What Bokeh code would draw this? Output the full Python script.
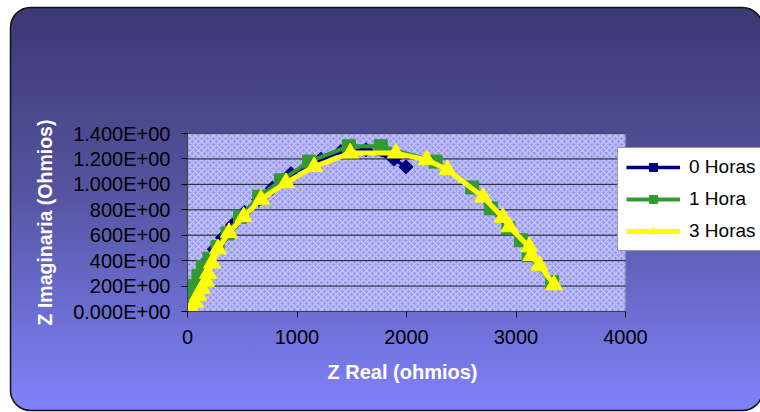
from urllib.parse import quote
from bokeh.plotting import figure
from bokeh.models import (FixedTicker, BoxAnnotation, Legend, LegendItem,
                          ColumnDataSource, Range1d, Title)
from bokeh.embed import file_html
from bokeh.resources import INLINE

# ---------------- data ----------------
x_0h = [20, 50, 90, 135, 185, 245, 320, 410, 520, 650, 775, 945, 1220, 1400, 1630, 1885, 1995]
y_0h = [50, 130, 220, 310, 400, 490, 580, 680, 780, 880, 970, 1085, 1198, 1258, 1272, 1198, 1138]

x_1h = [5, 25, 60, 100, 140, 200, 275, 365, 480, 655, 855, 1110, 1475, 1765, 2265, 2600, 2770,
        2930, 3045, 3115, 3330]
y_1h = [20, 120, 200, 280, 350, 415, 508, 614, 745, 903, 1032, 1179, 1300, 1300, 1179, 975, 811,
        656, 561, 442, 231]

x_3h = [40, 68, 96, 132, 169, 187, 224, 278, 379, 513, 671, 899, 1157, 1486, 1902, 2185, 2374,
        2700, 2880, 2940, 3120, 3140, 3215, 3347]
y_3h = [16, 71, 126, 182, 237, 300, 382, 492, 620, 745, 882, 1013, 1140, 1246, 1246, 1193, 1114,
        900, 740, 666, 508, 440, 363, 210]

series_names = ["0 Horas", "1 Hora", "3 Horas"]
y_ticks = [0, 200, 400, 600, 800, 1000, 1200, 1400]
y_tick_labels = ["0.000E+00", "200E+00", "400E+00", "600E+00", "800E+00",
                 "1.000E+00", "1.200E+00", "1.400E+00"]
x_ticks = [0, 1000, 2000, 3000, 4000]
x_min, x_max, y_min, y_max = 0, 4000, 0, 1400
x_title = "Z Real (ohmios)"
y_title = "Z Imaginaria (Ohmios)"

FONT = "Liberation Sans"

# the frame runs to the right edge of the canvas so the legend can overhang the plot box;
# the visible plot box covers x_min..x_max (438 px of the 573 px frame)
p = figure(width=760, height=412, output_backend="svg", toolbar_location=None,
           x_range=Range1d(x_min, x_max * 573 / 438), y_range=Range1d(y_min, y_max),
           min_border_left=187, min_border_right=0, min_border_top=133, min_border_bottom=101)

# background: rounded gradient panel via CSS on the host element
svg_bg = ("<svg xmlns='http://www.w3.org/2000/svg' width='760' height='412'>"
          "<defs><linearGradient id='g' x1='0' y1='0' x2='0' y2='1'>"
          "<stop offset='0' stop-color='#3b3874'/>"
          "<stop offset='0.45' stop-color='#55539f'/>"
          "<stop offset='1' stop-color='#8082fb'/>"
          "</linearGradient></defs>"
          "<rect x='10.5' y='7.5' width='752' height='403' rx='20' ry='20' "
          "fill='url(#g)' stroke='#111' stroke-width='1.5'/></svg>")
p.styles = {"background-image": "url(\"data:image/svg+xml;utf8," + quote(svg_bg) + "\")",
            "background-repeat": "no-repeat"}
p.border_fill_color = None
p.background_fill_color = None
p.outline_line_color = None

# patterned plot box
p.add_layout(BoxAnnotation(left=x_min, right=x_max, bottom=y_min, top=y_max,
                           fill_color="#9c9cf0", fill_alpha=1,
                           hatch_pattern="diagonal_cross", hatch_color="white",
                           hatch_alpha=0.45, hatch_scale=6, hatch_weight=1.2,
                           line_color=None, level="image"))

# horizontal grid lines limited to the plot box
p.xgrid.grid_line_color = None
p.ygrid.grid_line_color = None
p.segment(x0=[x_min] * len(y_ticks), x1=[x_max] * len(y_ticks), y0=y_ticks, y1=y_ticks,
          line_color="#1a1a1a", line_width=1)

# plot box outline
p.add_layout(BoxAnnotation(left=x_min, right=x_max, bottom=y_min, top=y_max,
                           fill_alpha=0, line_color="#808080", line_width=2,
                           level="underlay"))

# axes
p.yaxis.ticker = FixedTicker(ticks=y_ticks)
p.yaxis.major_label_overrides = {t: l for t, l in zip(y_ticks, y_tick_labels)}
p.xaxis.ticker = FixedTicker(ticks=x_ticks)
p.xaxis.bounds = (x_min, x_max)
for ax in (p.xaxis[0], p.yaxis[0]):
    ax.major_label_text_font = FONT
    ax.major_label_text_color = "black"
    ax.axis_line_color = "#404040"
    ax.major_tick_line_color = "black"
    ax.major_tick_in = 0
    ax.major_tick_out = 6
    ax.minor_tick_line_color = None
    ax.axis_label_text_font = FONT
    ax.axis_label_text_font_style = "bold"
    ax.axis_label_text_color = "white"
    ax.axis_label_text_font_size = "19.5px"
p.xaxis.major_label_text_font_size = "20px"
p.yaxis.major_label_text_font_size = "20px"
p.xaxis.major_label_standoff = 12
p.yaxis.major_label_standoff = 11
p.yaxis.axis_label = y_title
p.yaxis.axis_label_standoff = 14

# x-axis title, centred under the plot box (not under the wider frame)
p.add_layout(Title(text=x_title, align="left", offset=140, standoff=24,
                   text_font=FONT, text_font_style="bold", text_font_size="20px",
                   text_color="white"), "below")

# series
navy, green, yellow = "#000080", "#339933", "#ffff00"
s0 = ColumnDataSource(dict(x=x_0h, y=y_0h))
s1 = ColumnDataSource(dict(x=x_1h, y=y_1h))
s3 = ColumnDataSource(dict(x=x_3h, y=y_3h))

l0 = p.line("x", "y", source=s0, line_color=navy, line_width=3.5)
m0 = p.scatter("x", "y", source=s0, marker="square", angle=0.785398, size=10,
               fill_color=navy, line_color=navy)
l1 = p.line("x", "y", source=s1, line_color=green, line_width=4)
m1 = p.scatter("x", "y", source=s1, marker="square", size=13, fill_color=green, line_color=green)
l3 = p.line("x", "y", source=s3, line_color=yellow, line_width=5)
m3 = p.scatter("x", "y", source=s3, marker="triangle", size=17, fill_color=yellow,
               line_color=yellow)

legend = Legend(items=[LegendItem(label=series_names[0], renderers=[l0, m0]),
                       LegendItem(label=series_names[1], renderers=[l1, m1]),
                       LegendItem(label=series_names[2], renderers=[l3, m3])],
                location=(430, 60), margin=0, padding=8, spacing=10,
                label_height=20, glyph_height=20, glyph_width=54, label_standoff=9,
                label_text_font=FONT, label_text_font_size="19px", label_text_color="black",
                background_fill_color="white", background_fill_alpha=1,
                border_line_color="#333333", border_line_width=1)
p.add_layout(legend, "center")

open("out.html", "w").write(file_html(p, INLINE))
